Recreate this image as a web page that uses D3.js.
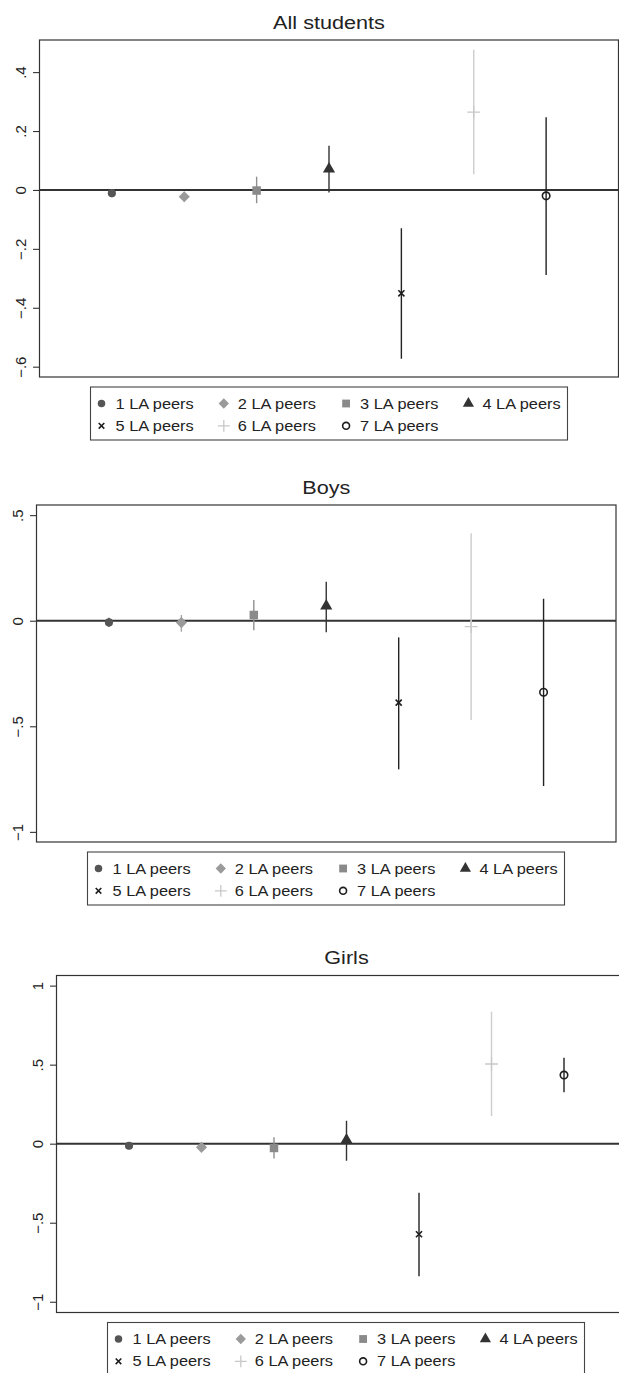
<!DOCTYPE html>
<html>
<head>
<meta charset="utf-8">
<script src="https://cdn.jsdelivr.net/npm/d3@7"></script>
<style>
  html, body { margin: 0; padding: 0; background: #fff; }
  svg { display: block; }
  text { font-family: "Liberation Sans", Arial, Helvetica, sans-serif; fill: #222; }
</style>
</head>
<body>
<svg id="chart" width="619" height="1373"></svg>
<script>
// ---------- data ----------
const categories = ["1 LA peers", "2 LA peers", "3 LA peers", "4 LA peers", "5 LA peers", "6 LA peers", "7 LA peers"];
const panelTitles = ["All students", "Boys", "Girls"];

const allEst = [-0.011, -0.023, -0.002, 0.071, -0.351, 0.264, -0.020];
const allLo  = [-0.025, -0.040, -0.045, -0.009, -0.573, 0.053, -0.289];
const allHi  = [ 0.003, -0.006,  0.045,  0.150, -0.130, 0.476,  0.247];

const boysEst = [-0.008, -0.009, 0.027, 0.070, -0.388, -0.028, -0.339];
const boysLo  = [-0.030, -0.052, -0.045, -0.055, -0.704, -0.470, -0.783];
const boysHi  = [ 0.014,  0.027,  0.098,  0.185, -0.079,  0.414,  0.104];

const girlsEst = [-0.013, -0.023, -0.027, 0.023, -0.573, 0.504, 0.434];
const girlsLo  = [-0.035, -0.045, -0.093, -0.108, -0.838, 0.175, 0.325];
const girlsHi  = [ 0.010,  0.000,  0.040,  0.145, -0.310, 0.835, 0.544];

const allTicks = [-0.6, -0.4, -0.2, 0, 0.2, 0.4];
const allTickLabels = ["\u2212.6", "\u2212.4", "\u2212.2", "0", ".2", ".4"];
const boysTicks = [-1, -0.5, 0, 0.5];
const boysTickLabels = ["\u22121", "\u2212.5", "0", ".5"];
const girlsTicks = [-1, -0.5, 0, 0.5, 1];
const girlsTickLabels = ["\u22121", "\u2212.5", "0", ".5", "1"];

const allDomain = [-0.635, 0.509];
const boysDomain = [-1.048, 0.548];
const girlsDomain = [-1.068, 1.064];

// ---------- styles ----------
const markerColor = ["#555555", "#9a9a9a", "#8a8a8a", "#333333", "#1e1e1e", "#c8c8c8", "#1e1e1e"];
const lineColor   = ["#555555", "#a6a6a6", "#8f8f8f", "#333333", "#222222", "#cccccc", "#222222"];
const STRETCH = 1.17;

const svg = d3.select("#chart");

function markerPath(i, big) {
  const k = big ? 1 : 0.85;
  switch (i) {
    case 0: return d3.symbol(d3.symbolCircle, 52 * k)();
    case 1: return d3.symbol(d3.symbolSquare, 62 * k)();
    case 2: return d3.symbol(d3.symbolSquare, 72 * k)();
    case 3: return d3.symbol(d3.symbolTriangle, 64 * k)();
    case 4: return d3.symbol(d3.symbolTimes, 26 * k)();
    case 5: return d3.symbol(d3.symbolPlus, 56 * k)();
    case 6: return d3.symbol(d3.symbolCircle, 44 * k)();
  }
}
function styleMarker(sel, i) {
  if (i === 4 || i === 5) {
    sel.attr("fill", "none").attr("stroke", markerColor[i]).attr("stroke-width", i === 4 ? 1.6 : 1.3);
  } else if (i === 6) {
    sel.attr("fill", "none").attr("stroke", markerColor[i]).attr("stroke-width", 1.6);
  } else {
    sel.attr("fill", markerColor[i]).attr("stroke", "none");
  }
  return sel;
}

function drawPanel(p) {
  const g = svg.append("g");
  const x = d3.scaleLinear().domain([0, 8]).range([p.left, p.left + p.width]);
  const y = d3.scaleLinear().domain(p.domain).range([p.top + p.height, p.top]);

  // title
  g.append("text")
    .attr("transform", `translate(${p.left + p.width / 2},${p.top - 11.5}) scale(${STRETCH},1)`)
    .attr("text-anchor", "middle")
    .style("font-size", "18.5px")
    .text(p.title);

  // frame
  g.append("rect")
    .attr("x", p.left).attr("y", p.top)
    .attr("width", p.width).attr("height", p.height)
    .attr("fill", "none").attr("stroke", "#333").attr("stroke-width", 1.2);

  // y axis
  const axis = d3.axisLeft(y)
    .tickValues(p.ticks)
    .tickFormat((d, i) => p.tickLabels[i])
    .tickSize(6.5)
    .tickPadding(0);
  const ag = g.append("g").attr("transform", `translate(${p.left},0)`).call(axis);
  ag.select(".domain").remove();
  ag.selectAll(".tick line").attr("stroke", "#333").attr("stroke-width", 1.1);
  ag.selectAll(".tick text")
    .attr("x", null).attr("dy", null)
    .attr("transform", "translate(-14,0) rotate(-90)")
    .attr("text-anchor", "middle")
    .style("font-size", "15px")
    .style("font-family", "'Liberation Sans', Arial, sans-serif")
    .attr("fill", "#222");

  // zero line
  g.append("line")
    .attr("x1", p.left).attr("x2", p.left + p.width)
    .attr("y1", y(0)).attr("y2", y(0))
    .attr("stroke", "#333").attr("stroke-width", 2);

  // error bars
  categories.forEach((c, i) => {
    g.append("line")
      .attr("x1", x(i + 1)).attr("x2", x(i + 1))
      .attr("y1", y(p.lo[i])).attr("y2", y(p.hi[i]))
      .attr("stroke", lineColor[i]).attr("stroke-width", 1.4);
  });
  // markers
  categories.forEach((c, i) => {
    const m = g.append("path")
      .attr("d", markerPath(i, true))
      .attr("transform", `translate(${x(i + 1)},${y(p.est[i])})${i === 1 ? " rotate(45)" : ""}`);
    styleMarker(m, i);
  });

  // legend
  const lx = p.left + 51, ly = p.top + 347;
  g.append("rect")
    .attr("x", lx).attr("y", ly).attr("width", 477).attr("height", 53)
    .attr("fill", "#fff").attr("stroke", "#444").attr("stroke-width", 1.1);
  categories.forEach((c, i) => {
    const col = i % 4, row = Math.floor(i / 4);
    const mx = lx + 11 + col * 122.3, my = ly + 16.5 + row * 22.3;
    const m = g.append("path")
      .attr("d", markerPath(i, false))
      .attr("transform", `translate(${mx},${my})${i === 1 ? " rotate(45)" : ""}`);
    styleMarker(m, i);
    g.append("text")
      .attr("transform", `translate(${mx + 14},${my + 5}) scale(${STRETCH},1)`)
      .style("font-size", "14px")
      .text(c);
  });
}

const panels = [
  { title: panelTitles[0], est: allEst, lo: allLo, hi: allHi, ticks: allTicks, tickLabels: allTickLabels, domain: allDomain, left: 39.5, top: 40, width: 579, height: 337 },
  { title: panelTitles[1], est: boysEst, lo: boysLo, hi: boysHi, ticks: boysTicks, tickLabels: boysTickLabels, domain: boysDomain, left: 36.5, top: 505, width: 579.5, height: 337 },
  { title: panelTitles[2], est: girlsEst, lo: girlsLo, hi: girlsHi, ticks: girlsTicks, tickLabels: girlsTickLabels, domain: girlsDomain, left: 56.5, top: 975.5, width: 580, height: 337 }
];
panels.forEach(drawPanel);
</script>
</body>
</html>
